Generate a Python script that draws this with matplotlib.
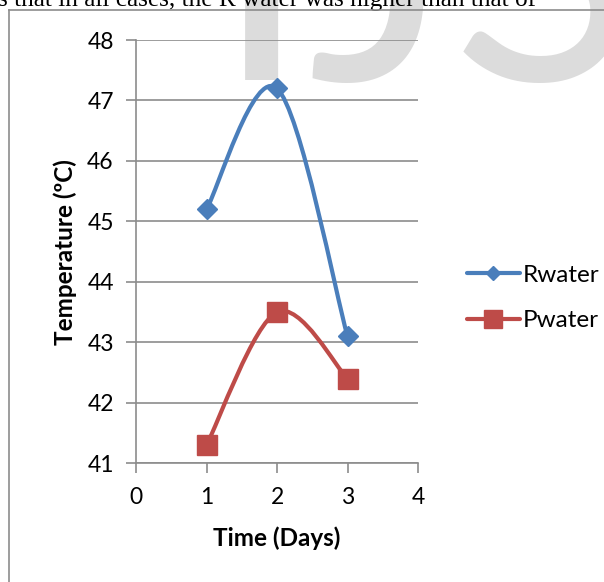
import matplotlib
matplotlib.use("Agg")
import matplotlib.pyplot as plt
from matplotlib.path import Path
from matplotlib.patches import PathPatch
import numpy as np

# %% data
days = [1, 2, 3]
rwater = [45.2, 47.2, 43.1]
pwater = [41.3, 43.5, 42.4]
series_names = ["Rwater", "Pwater"]
colors = ["#4A7EBB", "#BE4B48"]
markers = ["D", "s"]
xticks = [0, 1, 2, 3, 4]
yticks = [41, 42, 43, 44, 45, 46, 47, 48]

W, H = 604, 582
fig = plt.figure(figsize=(W / 100, H / 100), dpi=100)
fig.patch.set_facecolor("white")


def px(x, y):
    # pixel coords (from top-left) -> figure fraction
    return x / W, 1 - y / H


def smooth_path(xs, ys):
    # excel-like smoothed line: cubic bezier through the points
    pts = np.column_stack([xs, ys]).astype(float)
    n = len(pts)
    verts = [pts[0]]
    codes = [Path.MOVETO]
    for i in range(n - 1):
        p0 = pts[max(i - 1, 0)]
        p1 = pts[i]
        p2 = pts[i + 1]
        p3 = pts[min(i + 2, n - 1)]
        c1 = p1 + (p2 - p0) / 6
        c2 = p2 - (p3 - p1) / 6
        verts += [c1, c2, p2]
        codes += [Path.CURVE4] * 3
    return Path(verts, codes)


# watermark + page text behind the chart
fig.text(*px(214, 80), "IJSER", fontsize=245, family="Lato",
         color="#dcdcdc", va="baseline", ha="left", zorder=-2)
fig.text(*px(-2, 6), "s that in all cases, the R water was higher than that of",
         fontsize=18.2, family="Liberation Serif", color="black",
         va="baseline", ha="left", zorder=-1)

# chart frame (only top and left edges are visible)
fig.add_artist(plt.Line2D([9 / W, 1], [1 - 10 / H, 1 - 10 / H], color="#8c8c8c", lw=1.2))
fig.add_artist(plt.Line2D([9 / W, 9 / W], [0, 1 - 10 / H], color="#8c8c8c", lw=1.2))

l, r, t, b = 136, 418, 40, 463.3
ax = fig.add_axes([l / W, 1 - b / H, (r - l) / W, (b - t) / H])
ax.set_facecolor("none")

for ys, name, c, m, ms, lms in zip([rwater, pwater], series_names, colors, markers,
                                   [10.5, 14], [7, 12.5]):
    ax.add_patch(PathPatch(smooth_path(days, ys), fill=False, edgecolor=c,
                           lw=3.0, capstyle="round", zorder=3))
    ax.plot(days, ys, linestyle="none", marker=m, ms=ms, color=c, zorder=4)
    # legend proxy
    ax.plot([], [], color=c, lw=3.0, marker=m, ms=lms, label=name,
            solid_capstyle="round")

ax.set_xlim(0, 4)
ax.set_ylim(41, 48)
ax.set_xticks(xticks)
ax.set_yticks(yticks)
ax.grid(axis="y", color="#8c8c8c", lw=1.2)
ax.set_axisbelow(True)
for s in ["top", "right"]:
    ax.spines[s].set_visible(False)
for s in ["left", "bottom"]:
    ax.spines[s].set_color("#8c8c8c")
    ax.spines[s].set_linewidth(1.2)
ax.tick_params(length=7, width=1.2, color="#8c8c8c", labelsize=16.5)
for lab in ax.get_xticklabels() + ax.get_yticklabels():
    lab.set_family("Lato")
ax.tick_params(axis="x", pad=10)
ax.tick_params(axis="y", pad=9)

ax.set_xlabel("Time (Days)", fontsize=17.5, fontweight="bold", family="Lato", labelpad=13)
ax.set_ylabel("Temperature (\u00baC)", fontsize=17.5, fontweight="bold", family="Lato", labelpad=7)

leg = ax.legend(loc="center left", bbox_to_anchor=px(457, 298),
                bbox_transform=fig.transFigure, frameon=False,
                prop={"family": "Lato", "size": 17.5}, handlelength=2.2,
                handletextpad=0.1, labelspacing=1.0, borderaxespad=0)

fig.savefig("out.png", dpi=100)
